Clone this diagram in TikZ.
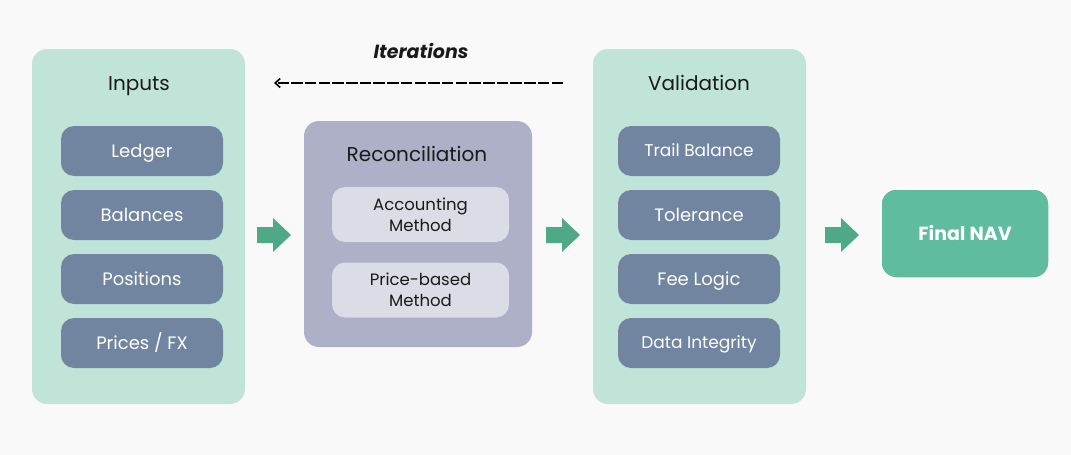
\documentclass[tikz,border=0pt]{standalone}
\usepackage{fontspec}
\setmainfont{Poppins}
\usetikzlibrary{arrows.meta}
\definecolor{bgc}{HTML}{F9F9F9}
\definecolor{panelg}{HTML}{C1E4D8}
\definecolor{slate}{HTML}{7185A0}
\definecolor{reconc}{HTML}{ADB0C7}
\definecolor{lightc}{HTML}{DADCE6}
\definecolor{arrowc}{HTML}{4FA886}
\definecolor{finalc}{HTML}{5FBC9F}
\definecolor{titlec}{HTML}{1A1A1A}
\tikzset{
  panel/.style={fill=panelg, rounded corners=15pt, inner sep=0pt, minimum width=213pt, minimum height=355pt},
  reconpanel/.style={fill=reconc, rounded corners=15pt, inner sep=0pt, minimum width=228pt, minimum height=226pt},
  itembox/.style={fill=slate, rounded corners=13pt, inner sep=0pt, minimum width=162pt, minimum height=50pt, text=white, text height=12.6pt, text depth=0pt, font=\fontsize{18}{21}\selectfont},
  smallitem/.style={itembox, text height=11.9pt, font=\fontsize{17}{20}\selectfont},
  methodbox/.style={fill=lightc, rounded corners=13pt, inner sep=0pt, minimum width=177pt, minimum height=55pt, text=titlec, align=center, font=\fontsize{16.5}{21}\selectfont},
  paneltitle/.style={text=titlec, inner sep=0pt, text height=14pt, text depth=0pt, font=\fontsize{20}{24}\selectfont},
  finalbox/.style={fill=finalc, draw=white, line width=1.5pt, rounded corners=15pt, inner sep=0pt, minimum width=168pt, minimum height=89pt, text=white, text height=13.3pt, text depth=0pt, font=\bfseries\fontsize{19}{22}\selectfont},
  blockarrow/.pic={\fill[arrowc] (-17,-8) -- (-1,-8) -- (-1,-17) -- (17,0) -- (-1,17) -- (-1,8) -- (-17,8) -- cycle;},
  iterline/.style={draw=black, line width=2pt, dash pattern=on 11.5pt off 2.2pt, -{Straight Barb[length=5pt,width=9pt,line width=1.6pt]}}
}
\begin{document}
\begin{tikzpicture}[x=1pt,y=-1pt]
\useasboundingbox[fill=bgc] (0,0) rectangle (1071,455);
% panels
\node[panel] (inputs) at (138.5,226.5) {};
\node[reconpanel] (recon) at (418,234) {};
\node[panel] (valid) at (699.5,226.5) {};
\node[finalbox] (final) at (965,233.5) {Final NAV};
% titles
\node[paneltitle] (tin) at (139,83.5) {Inputs};
\node[paneltitle] (trec) at (417,154.5) {Reconciliation};
\node[paneltitle] (tval) at (699,83.5) {Validation};
% inputs items
\node[itembox] (ledger) at (142,151) {Ledger};
\node[itembox] (balances) at (142,215) {Balances};
\node[itembox] (positions) at (142,279) {Positions};
\node[itembox] (prices) at (142,343) {Prices / FX};
% validation items
\node[smallitem] (trail) at (699,151) {Trail Balance};
\node[itembox] (tol) at (699,215) {Tolerance};
\node[itembox] (fee) at (699,279) {Fee Logic};
\node[smallitem] (data) at (699,343) {Data Integrity};
% methods
\node[methodbox] (acc) at (420.5,214.5) {Accounting\\Method};
\node[methodbox] (price) at (420.5,290) {Price-based\\Method};
% block arrows
\pic at (274,235) {blockarrow};
\pic at (563,235) {blockarrow};
\pic at (842,235) {blockarrow};
% iterations
\node[text=titlec, font=\bfseries\itshape\fontsize{19}{22}\selectfont] (iter) at (421,51) {Iterations};
\coordinate (itstart) at (563,83);
\coordinate (itend) at (274,83);
\draw[iterline] (itstart) -- (itend);
\end{tikzpicture}
\end{document}
